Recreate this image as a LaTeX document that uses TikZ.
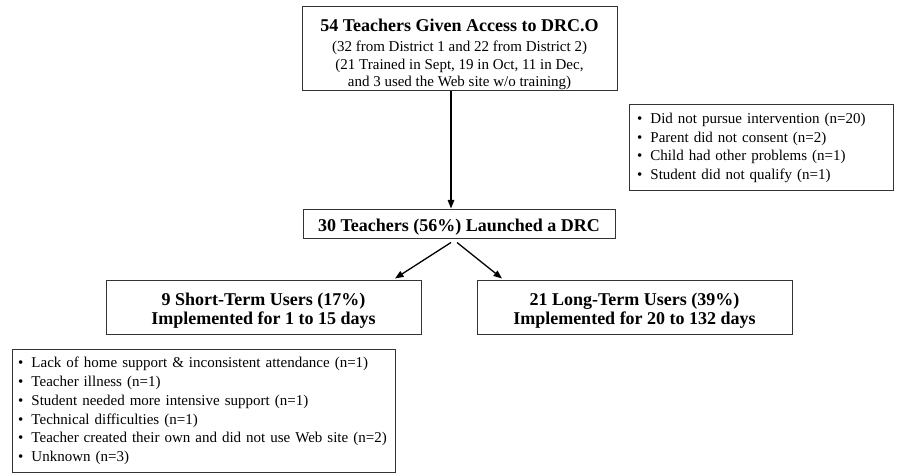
\documentclass[tikz,border=0pt]{standalone}
\usepackage{fontspec}
\setmainfont{Liberation Serif}
\usetikzlibrary{arrows.meta}
\newcommand{\regfont}{\fontsize{15}{18.8}\selectfont}
\newcommand{\toplfont}{\fontsize{15}{17.3}\selectfont}
\newcommand{\boldfont}{\fontsize{18}{19.5}\selectfont\bfseries}
\newcommand{\itm}[1]{\mbox{\makebox[13.5pt][l]{\textbullet}#1}}
\begin{document}
\begin{tikzpicture}[x=1pt,y=-1pt,
  box/.style={draw=black!80, line width=1pt, inner sep=0pt, align=center},
  listbox/.style={draw=black!80, line width=1pt, inner ysep=0pt, align=left, font=\regfont},
  arr/.style={line width=1.3pt, -{Triangle[length=8.5pt,width=6.5pt]}}]
\useasboundingbox (0,0) rectangle (898,473);

\node[box, minimum width=315pt, minimum height=84pt, font=\toplfont] (top) at (459.5,49)
  {\rule{0pt}{23pt}{\boldfont 54 Teachers Given Access to DRC.O}\\[3pt]
   (32 from District 1 and 22 from District 2)\\
   (21 Trained in Sept, 19 in Oct, 11 in Dec,\\
   and 3 used the Web site w/o training)};

\node[listbox, text width=248pt, inner xsep=8pt, minimum height=86pt] (excl) at (761,148)
  {\itm{Did not pursue intervention (n=20)}\\
   \itm{Parent did not consent (n=2)}\\
   \itm{Child had other problems (n=1)}\\
   \itm{Student did not qualify (n=1)}};

\node[box, minimum width=312pt, minimum height=29pt, font=\boldfont] (mid) at (459,224.5)
  {\rule{0pt}{18pt}30 Teachers (56\%) Launched a DRC};

\node[box, minimum width=315pt, minimum height=54pt, font=\boldfont] (short) at (263.5,308)
  {\rule{0pt}{18pt}9 Short-Term Users (17\%)\\Implemented for 1 to 15 days};

\node[box, minimum width=315pt, minimum height=54pt, font=\boldfont] (long) at (634.5,308)
  {\rule{0pt}{18pt}21 Long-Term Users (39\%)\\Implemented for 20 to 132 days};

\node[listbox, text width=371pt, inner xsep=6pt, minimum height=122pt] (reasons) at (203.5,411)
  {\itm{Lack of home support \& inconsistent attendance (n=1)}\\
   \itm{Teacher illness (n=1)}\\
   \itm{Student needed more intensive support (n=1)}\\
   \itm{Technical difficulties (n=1)}\\
   \itm{Teacher created their own and did not use Web site (n=2)}\\
   \itm{Unknown (n=3)}};

\draw[arr] ([xshift=-8.5pt]top.south) -- ([xshift=-8pt,yshift=1pt]mid.north);
\draw[arr] ([xshift=-8pt,yshift=-3pt]mid.south) -- ([xshift=131.5pt,yshift=2pt]short.north);
\draw[arr] ([xshift=-2pt,yshift=-3pt]mid.south) -- ([xshift=-132.5pt,yshift=2pt]long.north);
\end{tikzpicture}
\end{document}
